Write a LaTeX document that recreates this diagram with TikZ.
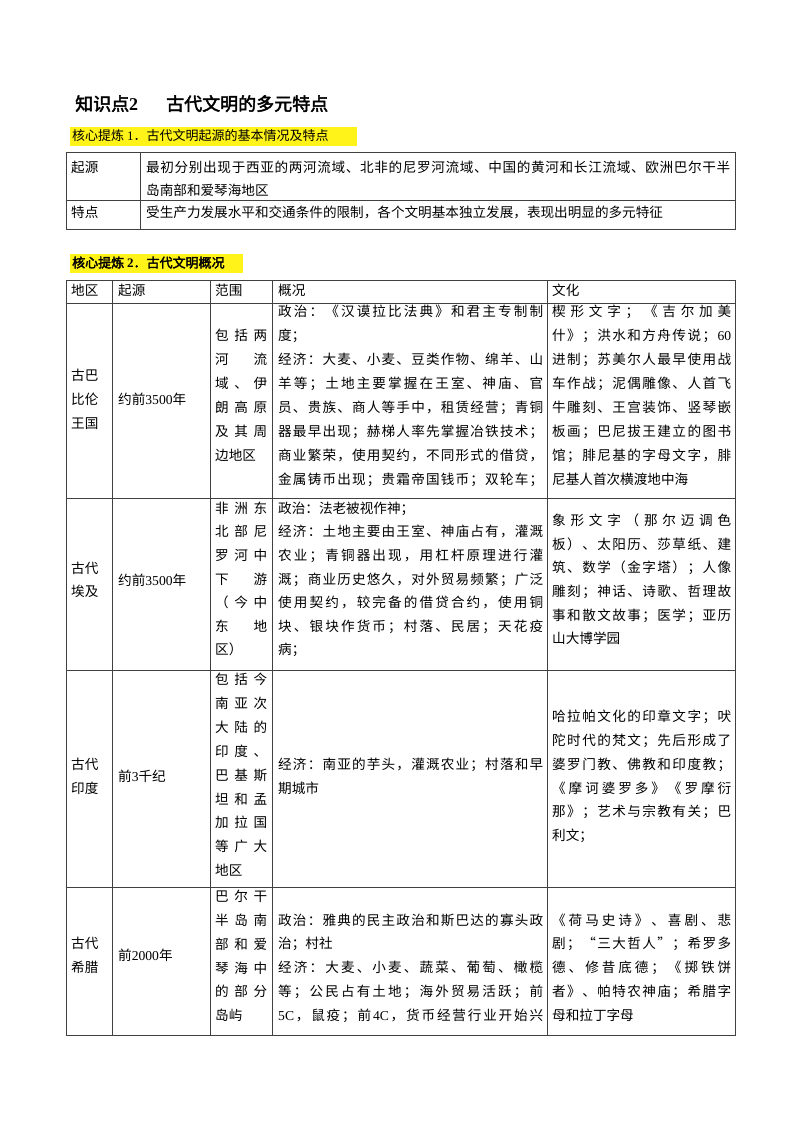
\documentclass[tikz,border=0pt]{standalone}
\usepackage{fontspec}
\setmainfont{Noto Sans CJK SC}[BoldFont={Noto Sans CJK SC},BoldFeatures={FakeBold=2.5}]
\newfontfamily\lat{Liberation Serif}
\def\Jendmark{\Jend}
\def\Jloop#1{\def\Jtmp{#1}\ifx\Jtmp\Jendmark\unskip\else{#1}\hskip 0pt plus 1fil\expandafter\Jloop\fi}
\newcommand\J[2]{\makebox[#1][s]{\Jloop#2\Jend}}
\tikzset{t/.style={anchor=west,inner sep=0pt,text height=10pt,text depth=3pt,font=\fontsize{13.6pt}{16pt}\selectfont},
hl/.style={fill=yellow!90!white,draw=none},
rule/.style={draw=black!75,line width=0.9pt}}
\begin{document}
\begin{tikzpicture}[x=1pt,y=-1pt]
\useasboundingbox (0,0) rectangle (800,1132);
% title
\node[t,font=\fontsize{18pt}{20pt}\selectfont\bfseries] (title) at (75,107) {知识点{\lat 2}\hspace{28pt}古代文明的多元特点};
\fill[hl] (70,127) rectangle (357,146);
\node[t,font=\fontsize{13pt}{15pt}\selectfont] (h1) at (72,137) {核心提炼 {\lat 1}．古代文明起源的基本情况及特点};
\fill[hl] (70,254) rectangle (243,273);
\node[t,font=\fontsize{13pt}{15pt}\selectfont\bfseries] (h2) at (72,264) {核心提炼 {\lat 2}．古代文明概况};
% table 1
\draw[rule] (66,152) rectangle (735,229) (66,200) -- (735,200) (140,152) -- (140,229);
\node[t] (a1) at (71,169) {起源};
\node[t] (a2) at (146,169) {\J{584pt}{最初分别出现于西亚的两河流域、北非的尼罗河流域、中国的黄河和长江流域、欧洲巴尔干半}};
\node[t] (a3) at (146,192) {岛南部和爱琴海地区};
\node[t] (a4) at (71,214) {特点};
\node[t] (a5) at (146,214) {受生产力发展水平和交通条件的限制，各个文明基本独立发展，表现出明显的多元特征};
% table 2
\draw[rule] (66,280) rectangle (735,1035);
\foreach \yy in {303,498,670,887} \draw[rule] (66,\yy) -- (735,\yy);
\foreach \xx in {112,210,272,547} \draw[rule] (\xx,280) -- (\xx,1035);
\node[t] (k1) at (71,292) {地区};
\node[t] (k2) at (118,292) {起源};
\node[t] (k3) at (215,292) {范围};
\node[t] (k4) at (278,292) {概况};
\node[t] (k5) at (552,292) {文化};
% row 1
\node[t] (r1a) at (71,377) {古巴};
\node[t] (r1b) at (71,401) {比伦};
\node[t] (r1c) at (71,425) {王国};
\node[t] (r1d) at (118,401) {约前{\lat 3500}年};
\node[t] (r1e) at (215,337) {\J{52pt}{包括两}};
\node[t] (r1f) at (215,361) {\J{52pt}{河流}};
\node[t] (r1g) at (215,385) {\J{52pt}{域、伊}};
\node[t] (r1h) at (215,409) {\J{52pt}{朗高原}};
\node[t] (r1i) at (215,433) {\J{52pt}{及其周}};
\node[t] (r1j) at (215,457) {边地区};
\node[t] (r1k) at (278,313) {\J{265pt}{政治：《汉谟拉比法典》和君主专制制}};
\node[t] (r1l) at (278,337) {度；};
\node[t] (r1m) at (278,361) {\J{265pt}{经济：大麦、小麦、豆类作物、绵羊、山}};
\node[t] (r1n) at (278,385) {\J{265pt}{羊等；土地主要掌握在王室、神庙、官}};
\node[t] (r1o) at (278,409) {\J{265pt}{员、贵族、商人等手中，租赁经营；青铜}};
\node[t] (r1p) at (278,433) {\J{265pt}{器最早出现；赫梯人率先掌握冶铁技术；}};
\node[t] (r1q) at (278,457) {\J{265pt}{商业繁荣，使用契约，不同形式的借贷，}};
\node[t] (r1r) at (278,481) {\J{265pt}{金属铸币出现；贵霜帝国钱币；双轮车；}};
\node[t] (r1s) at (552,313) {\J{179pt}{楔形文字；《吉尔加美}};
\node[t] (r1t) at (552,337) {\J{179pt}{什》；洪水和方舟传说；{\lat 60}}};
\node[t] (r1u) at (552,361) {\J{179pt}{进制；苏美尔人最早使用战}};
\node[t] (r1v) at (552,385) {\J{179pt}{车作战；泥偶雕像、人首飞}};
\node[t] (r1w) at (552,409) {\J{179pt}{牛雕刻、王宫装饰、竖琴嵌}};
\node[t] (r1x) at (552,433) {\J{179pt}{板画；巴尼拔王建立的图书}};
\node[t] (r1y) at (552,457) {\J{179pt}{馆；腓尼基的字母文字，腓}};
\node[t] (r1z) at (552,481) {尼基人首次横渡地中海};
% row 2
\node[t] (r2a) at (71,570) {古代};
\node[t] (r2b) at (71,593) {埃及};
\node[t] (r2c) at (118,582) {约前{\lat 3500}年};
\node[t] (r2d) at (215,510) {\J{52pt}{非洲东}};
\node[t] (r2e) at (215,533) {\J{52pt}{北部尼}};
\node[t] (r2f) at (215,557) {\J{52pt}{罗河中}};
\node[t] (r2g) at (215,581) {\J{52pt}{下游}};
\node[t] (r2h) at (215,604) {\J{52pt}{（今中}};
\node[t] (r2i) at (215,628) {\J{52pt}{东地}};
\node[t] (r2j) at (215,651) {区）};
\node[t] (r2k) at (278,510) {政治：法老被视作神；};
\node[t] (r2l) at (278,533) {\J{265pt}{经济：土地主要由王室、神庙占有，灌溉}};
\node[t] (r2m) at (278,557) {\J{265pt}{农业；青铜器出现，用杠杆原理进行灌}};
\node[t] (r2n) at (278,581) {\J{265pt}{溉；商业历史悠久，对外贸易频繁；广泛}};
\node[t] (r2o) at (278,604) {\J{265pt}{使用契约，较完备的借贷合约，使用铜}};
\node[t] (r2p) at (278,628) {\J{265pt}{块、银块作货币；村落、民居；天花疫}};
\node[t] (r2q) at (278,651) {病；};
\node[t] (r2r) at (552,522) {\J{179pt}{象形文字（那尔迈调色}};
\node[t] (r2s) at (552,546) {\J{179pt}{板）、太阳历、莎草纸、建}};
\node[t] (r2t) at (552,569) {\J{179pt}{筑、数学（金字塔）；人像}};
\node[t] (r2u) at (552,593) {\J{179pt}{雕刻；神话、诗歌、哲理故}};
\node[t] (r2v) at (552,617) {\J{179pt}{事和散文故事；医学；亚历}};
\node[t] (r2w) at (552,640) {山大博学园};
% row 3
\node[t] (r3a) at (71,766) {古代};
\node[t] (r3b) at (71,790) {印度};
\node[t] (r3c) at (118,778) {前{\lat 3}千纪};
\node[t] (r3d) at (215,681) {\J{52pt}{包括今}};
\node[t] (r3e) at (215,705) {\J{52pt}{南亚次}};
\node[t] (r3f) at (215,729) {\J{52pt}{大陆的}};
\node[t] (r3g) at (215,753) {\J{52pt}{印度、}};
\node[t] (r3h) at (215,777) {\J{52pt}{巴基斯}};
\node[t] (r3i) at (215,801) {\J{52pt}{坦和孟}};
\node[t] (r3j) at (215,824) {\J{52pt}{加拉国}};
\node[t] (r3k) at (215,848) {\J{52pt}{等广大}};
\node[t] (r3l) at (215,872) {地区};
\node[t] (r3m) at (278,766) {\J{265pt}{经济：南亚的芋头，灌溉农业；村落和早}};
\node[t] (r3n) at (278,790) {期城市};
\node[t] (r3o) at (552,718) {\J{179pt}{哈拉帕文化的印章文字；吠}};
\node[t] (r3p) at (552,742) {\J{179pt}{陀时代的梵文；先后形成了}};
\node[t] (r3q) at (552,766) {\J{179pt}{婆罗门教、佛教和印度教；}};
\node[t] (r3r) at (552,790) {\J{179pt}{《摩诃婆罗多》《罗摩衍}};
\node[t] (r3s) at (552,813) {\J{179pt}{那》；艺术与宗教有关；巴}};
\node[t] (r3t) at (552,837) {利文；};
% row 4
\node[t] (r4a) at (71,945) {古代};
\node[t] (r4b) at (71,969) {希腊};
\node[t] (r4c) at (118,957) {前{\lat 2000}年};
\node[t] (r4d) at (215,898) {\J{52pt}{巴尔干}};
\node[t] (r4e) at (215,922) {\J{52pt}{半岛南}};
\node[t] (r4f) at (215,946) {\J{52pt}{部和爱}};
\node[t] (r4g) at (215,970) {\J{52pt}{琴海中}};
\node[t] (r4h) at (215,993) {\J{52pt}{的部分}};
\node[t] (r4i) at (215,1017) {岛屿};
\node[t] (r4j) at (278,922) {\J{265pt}{政治：雅典的民主政治和斯巴达的寡头政}};
\node[t] (r4k) at (278,945) {治；村社};
\node[t] (r4l) at (278,969) {\J{265pt}{经济：大麦、小麦、蔬菜、葡萄、橄榄}};
\node[t] (r4m) at (278,993) {\J{265pt}{等；公民占有土地；海外贸易活跃；前}};
\node[t] (r4n) at (278,1017) {\J{265pt}{{\lat 5C}，鼠疫；前{\lat 4C}，货币经营行业开始兴}};
\node[t] (r4o) at (552,922) {\J{179pt}{《荷马史诗》、喜剧、悲}};
\node[t] (r4p) at (552,945) {\J{179pt}{剧；“三大哲人”；希罗多}};
\node[t] (r4q) at (552,969) {\J{179pt}{德、修昔底德；《掷铁饼}};
\node[t] (r4r) at (552,993) {\J{179pt}{者》、帕特农神庙；希腊字}};
\node[t] (r4s) at (552,1017) {母和拉丁字母};
\end{tikzpicture}
\end{document}
